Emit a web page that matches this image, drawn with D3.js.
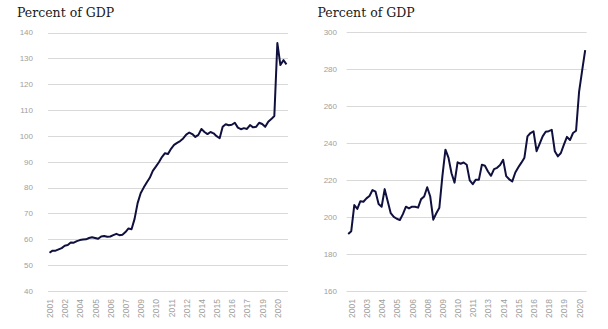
<!DOCTYPE html>
<html>
<head>
<meta charset="utf-8">
<script src="https://cdn.jsdelivr.net/npm/d3@7"></script>
<style>
  html, body { margin: 0; padding: 0; background: #ffffff; }
  svg { display: block; }
</style>
</head>
<body>
<svg id="chart" width="608" height="329"></svg>
<script>
// ---- Data ----
const quarters = [
  "2001Q3","2001Q4",
  "2002Q1","2002Q2","2002Q3","2002Q4",
  "2003Q1","2003Q2","2003Q3","2003Q4",
  "2004Q1","2004Q2","2004Q3","2004Q4",
  "2005Q1","2005Q2","2005Q3","2005Q4",
  "2006Q1","2006Q2","2006Q3","2006Q4",
  "2007Q1","2007Q2","2007Q3","2007Q4",
  "2008Q1","2008Q2","2008Q3","2008Q4",
  "2009Q1","2009Q2","2009Q3","2009Q4",
  "2010Q1","2010Q2","2010Q3","2010Q4",
  "2011Q1","2011Q2","2011Q3","2011Q4",
  "2012Q1","2012Q2","2012Q3","2012Q4",
  "2013Q1","2013Q2","2013Q3","2013Q4",
  "2014Q1","2014Q2","2014Q3","2014Q4",
  "2015Q1","2015Q2","2015Q3","2015Q4",
  "2016Q1","2016Q2","2016Q3","2016Q4",
  "2017Q1","2017Q2","2017Q3","2017Q4",
  "2018Q1","2018Q2","2018Q3","2018Q4",
  "2019Q1","2019Q2","2019Q3","2019Q4",
  "2020Q1","2020Q2","2020Q3","2020Q4",
  "2021Q1"
];

const leftValues = [
  54.8, 55.6,
  55.6, 56.1, 56.6, 57.5,
  57.8, 58.8, 58.7, 59.3,
  59.7, 59.9, 60.0, 60.5,
  60.8, 60.5, 60.2, 61.1,
  61.3, 61.0, 61.1, 61.6,
  62.1, 61.6, 61.8, 62.8,
  64.2, 63.9, 67.9, 74.0,
  77.8, 80.0, 82.0, 83.8,
  86.5, 88.1, 89.8, 91.8,
  93.3, 93.0, 95.0, 96.5,
  97.3, 98.0, 99.0, 100.5,
  101.3, 100.7, 99.6, 100.4,
  102.7, 101.5, 100.7, 101.5,
  101.0, 99.9, 99.1, 103.5,
  104.5, 104.1, 104.3, 105.1,
  103.2, 102.6, 103.0, 102.7,
  104.2, 103.3, 103.5, 105.1,
  104.6, 103.5, 105.5, 106.5,
  107.7, 135.9, 127.4, 129.3,
  127.7
];

const rightValues = [
  190.8, 192.3,
  206.4, 204.3, 208.5, 208.2,
  210.0, 211.3, 214.5, 213.6,
  207.0, 205.5, 215.0, 208.5,
  202.0, 200.0, 199.0, 198.3,
  201.5, 205.5, 204.6, 205.5,
  205.5, 205.0, 209.6, 211.0,
  216.0, 211.0, 198.5, 202.0,
  205.0, 222.0, 236.3, 232.0,
  223.6, 218.5, 229.5, 228.7,
  229.4, 228.2, 219.7, 217.7,
  220.1, 220.0, 228.2, 227.6,
  224.5, 222.2, 225.8, 226.5,
  228.0, 230.8, 222.0, 220.3,
  219.2, 224.0, 226.8, 229.3,
  232.0, 243.5, 245.3, 246.2,
  235.5, 239.5, 243.5, 246.0,
  246.3, 247.0, 235.5, 232.7,
  234.5, 239.0, 243.2, 241.5,
  245.3, 246.5, 267.7, 279.0,
  290.0
];

const leftTickQuarters = ["2001Q3","2002Q4","2004Q1","2005Q2","2006Q3","2007Q4","2009Q1","2010Q2",
  "2011Q3","2012Q4","2014Q1","2015Q2","2016Q3","2017Q4","2019Q1","2020Q2"];
const rightTickQuarters = ["2001Q4","2003Q1","2004Q2","2005Q3","2006Q4","2008Q1","2009Q2","2010Q3",
  "2011Q4","2013Q1","2014Q2","2015Q3","2016Q4","2018Q1","2019Q2","2020Q3"];

const leftYTicks = [40, 50, 60, 70, 80, 90, 100, 110, 120, 130, 140];
const rightYTicks = [160, 180, 200, 220, 240, 260, 280, 300];

const titleText = "Percent of GDP";

// ---- Drawing ----
const svg = d3.select("#chart");

function panel(cfg) {
  const g = svg.append("g");
  const x = d3.scalePoint().domain(quarters).range([cfg.x0, cfg.x1]).padding(0.5);
  const y = d3.scaleLinear().domain(cfg.yDomain).range([cfg.yBottom, cfg.yTop]);

  // title
  g.append("text")
    .attr("x", cfg.titleX).attr("y", 16.5)
    .attr("font-family", "'DejaVu Serif', 'Liberation Serif', serif")
    .attr("font-size", 12.5)
    .attr("fill", "#1a1a1a")
    .text(titleText);

  // gridlines
  g.selectAll("line.grid").data(cfg.yTicks).enter().append("line")
    .attr("class", "grid")
    .attr("x1", cfg.x0).attr("x2", cfg.x1)
    .attr("y1", d => Math.round(y(d)) + 0.5).attr("y2", d => Math.round(y(d)) + 0.5)
    .attr("stroke", "#d9d9d9").attr("stroke-width", 1);

  // y labels
  g.selectAll("text.ylab").data(cfg.yTicks).enter().append("text")
    .attr("class", "ylab")
    .attr("x", cfg.yLabelX).attr("y", d => y(d))
    .attr("dy", "0.35em")
    .attr("text-anchor", "end")
    .attr("font-family", "'Liberation Sans', Arial, sans-serif")
    .attr("font-size", 8)
    .attr("fill", "#a0a0a0")
    .text(d => d);

  // x axis labels
  const xAxis = d3.axisBottom(x)
    .tickValues(cfg.xTicks)
    .tickSize(0)
    .tickFormat(d => d.slice(0, 4));
  const ax = g.append("g").attr("transform", `translate(0,${cfg.yBottom})`).call(xAxis);
  ax.select(".domain").remove();
  ax.selectAll("text")
    .attr("transform", "rotate(-90)")
    .attr("text-anchor", "end")
    .attr("x", -8).attr("y", 0).attr("dy", "0.35em")
    .attr("font-family", "'Liberation Sans', Arial, sans-serif")
    .attr("font-size", 8.5)
    .attr("fill", "#a0a0a0");

  // line
  const line = d3.line()
    .x((d, i) => x(quarters[i]))
    .y(d => y(d));
  g.append("path")
    .datum(cfg.values)
    .attr("d", line)
    .attr("fill", "none")
    .attr("stroke", "#10103f")
    .attr("stroke-width", 2)
    .attr("stroke-linejoin", "round");
}

panel({
  x0: 48, x1: 288, yDomain: [40, 140], yBottom: 291, yTop: 32.5,
  yTicks: leftYTicks, xTicks: leftTickQuarters, values: leftValues,
  titleX: 17, yLabelX: 33
});

panel({
  x0: 346.7, x1: 586.7, yDomain: [160, 300], yBottom: 291, yTop: 31.7,
  yTicks: rightYTicks, xTicks: rightTickQuarters, values: rightValues,
  titleX: 317.5, yLabelX: 337
});
</script>
</body>
</html>
